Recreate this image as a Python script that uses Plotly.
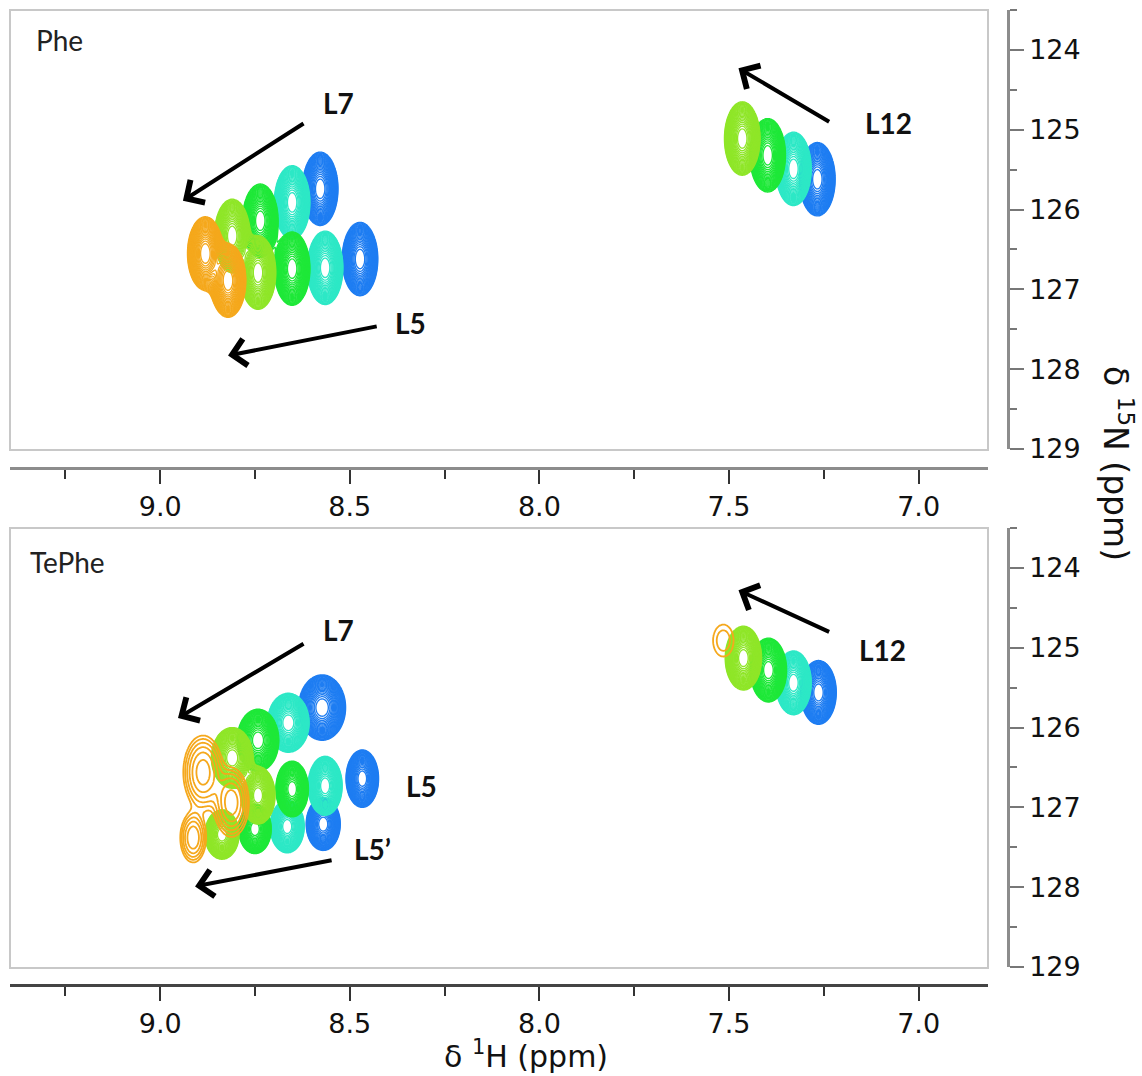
import numpy as np
import plotly.graph_objects as go

W, H = 1142, 1076

# ---- data --------------------------------------------------------------
colors = ["#1e7df2", "#2de8c6", "#1ee838", "#8fe628", "#f5a81c"]  # titration points 0..4

# Panel 1 (Phe): peak centres (1H ppm, 15N ppm), colour index, half-widths (ppm), intensity
phe_H   = [8.578, 8.652, 8.736, 8.810, 8.881,
           8.473, 8.565, 8.652, 8.742, 8.821,
           7.267, 7.330, 7.398, 7.465]
phe_N   = [125.74, 125.91, 126.14, 126.33, 126.55,
           126.62, 126.73, 126.74, 126.79, 126.89,
           125.62, 125.49, 125.32, 125.11]
phe_col = [0, 1, 2, 3, 4,
           0, 1, 2, 3, 4,
           0, 1, 2, 3]
phe_aH  = [0.047] * 14
phe_aN  = [0.46] * 14
phe_int = [1.0] * 14

# Panel 2 (TePhe)
te_H   = [8.573, 8.662, 8.742, 8.810, 8.887,
          8.467, 8.565, 8.652, 8.742, 8.812,
          8.570, 8.665, 8.750, 8.837, 8.913,
          7.264, 7.330, 7.396, 7.462, 7.515]
te_N   = [125.75, 125.94, 126.16, 126.38, 126.56,
          126.64, 126.73, 126.77, 126.85, 126.94,
          127.21, 127.24, 127.27, 127.34, 127.38,
          125.56, 125.44, 125.28, 125.13, 124.91]
te_col = [0, 1, 2, 3, 4,
          0, 1, 2, 3, 4,
          0, 1, 2, 3, 4,
          0, 1, 2, 3, 4]
te_aH  = [0.062, 0.055, 0.055, 0.055, 0.052,
          0.043, 0.045, 0.043, 0.045, 0.046,
          0.045, 0.045, 0.043, 0.045, 0.034,
          0.047, 0.047, 0.048, 0.048, 0.027]
te_aN  = [0.41, 0.37, 0.39, 0.38, 0.46,
          0.36, 0.37, 0.35, 0.36, 0.43,
          0.33, 0.33, 0.31, 0.31, 0.31,
          0.40, 0.40, 0.40, 0.40, 0.20]
te_int = [1.0, 1.0, 1.0, 1.0, 0.35,
          1.0, 1.0, 1.0, 1.0, 0.36,
          1.0, 1.0, 1.0, 1.0, 0.28,
          1.0, 1.0, 1.0, 1.0, 0.09]

x_ticks = [9.0, 8.5, 8.0, 7.5, 7.0]
y_ticks = [124, 125, 126, 127, 128, 129]

# labels: (text, H, N)
phe_labels = [("L7", 8.531, 124.67), ("L5", 8.341, 127.42), ("L12", 7.079, 124.91)]
te_labels = [("L7", 8.531, 124.78), ("L5", 8.312, 126.73), ("L5\u2019", 8.441, 127.52),
             ("L12", 7.095, 125.03)]
# arrows: (tail H, tail N, head H, head N)
phe_arrows = [(8.618, 124.91, 8.940, 125.89), (8.425, 127.46, 8.821, 127.83),
              (7.232, 124.91, 7.475, 124.23)]
te_arrows = [(8.618, 124.94, 8.953, 125.88), (8.544, 127.66, 8.908, 127.99),
             (7.232, 124.81, 7.475, 124.28)]

# ---- layout geometry (pixels) -----------------------------------------
XL, XR = 10, 988
panels = [dict(top=10, bot=449, xline=468), dict(top=528, bot=967, xline=985)]
x_range = [9.396, 6.817]
y_range = [129.0, 123.5]
L0 = 0.05


def px(x):
    return x / W


def py(y):
    return 1 - y / H


fig = go.Figure()


def add_spectrum(Hs, Ns, cols, aH, aN, ints, xa, ya):
    Hs, Ns, aH, aN, ints = map(np.asarray, (Hs, Ns, aH, aN, ints))
    cols = np.asarray(cols)
    for ci, c in enumerate(colors):
        for cluster in (Hs > 8.0, Hs <= 8.0):
            sel = (cols == ci) & cluster
            if not sel.any():
                continue
            h, n, ah, an, it = Hs[sel], Ns[sel], aH[sel], aN[sel], ints[sel]
            sx = ah / np.sqrt(2 * np.log(it / L0))
            sy = an / np.sqrt(2 * np.log(it / L0))
            xg = np.arange((h - 4 * sx).min(), (h + 4 * sx).max(), 0.002)
            yg = np.arange((n - 4 * sy).min(), (n + 4 * sy).max(), 0.012)
            X, Y = np.meshgrid(xg, yg)
            Z = np.zeros_like(X)
            for k in range(len(h)):
                Z += it[k] * np.exp(-0.5 * (((X - h[k]) / sx[k]) ** 2 + ((Y - n[k]) / sy[k]) ** 2))
            LZ = np.log10(np.maximum(Z, 1e-4)).astype(np.float32)
            outline = it.max() < 0.5
            if outline:
                contours = dict(coloring="lines", start=np.log10(L0), end=np.log10(0.29),
                                size=0.15, showlabels=False)
                lw = 1.8
            else:
                contours = dict(coloring="lines", start=np.log10(L0), end=-0.07,
                                size=0.055, showlabels=False)
                lw = 1.35
            fig.add_trace(go.Contour(
                x=xg.astype(np.float32), y=yg.astype(np.float32), z=LZ,
                xaxis=xa, yaxis=ya, autocontour=False, contours=contours,
                line=dict(width=lw, smoothing=1),
                colorscale=[[0, c], [1, c]], showscale=False, hoverinfo="skip"))


add_spectrum(phe_H, phe_N, phe_col, phe_aH, phe_aN, phe_int, "x", "y")
add_spectrum(te_H, te_N, te_col, te_aH, te_aN, te_int, "x2", "y2")

axis_font = dict(family="DejaVu Sans", size=27, color="#111111")
for i, p in enumerate(panels):
    sfx = "" if i == 0 else str(i + 1)
    xdom = [px(XL), px(XR)]
    ydom = [py(p["bot"]), py(p["top"])]
    fig.update_layout(**{
        "xaxis" + sfx: dict(domain=xdom, range=x_range, anchor="free", position=py(p["xline"]),
                            tickvals=x_ticks, ticktext=[f"{v:.1f}" for v in x_ticks],
                            ticks="outside", ticklen=14, tickwidth=1.5, tickcolor="#333333",
                            showline=True, linewidth=3,
                            linecolor="#8c8c8c" if i == 0 else "#444444",
                            minor=dict(dtick=0.25, tick0=7.0, ticks="outside", ticklen=9,
                                       tickwidth=1.5, tickcolor="#333333"),
                            showgrid=False, zeroline=False, tickfont=axis_font,
                            automargin=False),
        "yaxis" + sfx: dict(domain=ydom, range=y_range, anchor="free", position=px(1008),
                            side="right", tickvals=y_ticks, ticks="outside", ticklen=14,
                            tickwidth=1.5, tickcolor="#777777",
                            showline=True, linewidth=2.5, linecolor="#8c8c8c",
                            minor=dict(dtick=0.5, tick0=123.5, ticks="outside", ticklen=7,
                                       tickwidth=1.5, tickcolor="#777777"),
                            showgrid=False, zeroline=False, tickfont=axis_font,
                            automargin=False),
    })
    fig.add_shape(type="rect", xref="paper", yref="paper",
                  x0=px(XL), x1=px(XR), y0=py(p["bot"] + 1), y1=py(p["top"]),
                  line=dict(color="#c8c8c8", width=2), fillcolor="rgba(0,0,0,0)")

label_font = dict(family="Lato", size=28, color="#111111")
for (labels, arrows, xa, ya) in ((phe_labels, phe_arrows, "x", "y"),
                                 (te_labels, te_arrows, "x2", "y2")):
    for th, tn, hh, hn in arrows:
        fig.add_annotation(x=hh, y=hn, xref=xa, yref=ya, ax=th, ay=tn, axref=xa, ayref=ya,
                           text="", showarrow=True, arrowhead=4, arrowsize=1.3,
                           arrowwidth=4, arrowcolor="#000000", standoff=0)
    for t, h, n in labels:
        fig.add_annotation(x=h, y=n, xref=xa, yref=ya, text=f"<b>{t}</b>", showarrow=False,
                           font=label_font)

name_font = dict(family="Lato", size=28, color="#222222")
fig.add_annotation(x=px(34), y=py(40), xref="paper", yref="paper", text="Phe",
                   showarrow=False, xanchor="left", yanchor="middle", font=name_font)
fig.add_annotation(x=px(28), y=py(562), xref="paper", yref="paper", text="TePhe",
                   showarrow=False, xanchor="left", yanchor="middle", font=name_font)

fig.add_annotation(x=px(526), y=0, xref="paper", yref="paper",
                   text="\u03b4 <sup>1</sup>H (ppm)", showarrow=False,
                   xanchor="center", yanchor="bottom",
                   font=dict(family="DejaVu Sans", size=30, color="#111111"))
fig.add_annotation(x=px(1118), y=py(463), xref="paper", yref="paper",
                   text="\u03b4 <sup>15</sup>N (ppm)", showarrow=False, textangle=90,
                   xanchor="center", yanchor="middle",
                   font=dict(family="DejaVu Sans", size=33, color="#111111"))

fig.update_layout(width=W, height=H,
                  margin=dict(l=0, r=0, t=0, b=0, pad=0, autoexpand=False),
                  paper_bgcolor="white", plot_bgcolor="white", showlegend=False)

css = ("var s=document.createElement('style');"
       "s.innerHTML='html,body{margin:0!important;padding:0!important;overflow:hidden!important;}';"
       "document.head.appendChild(s);")
fig.write_html("out.html", config={"displayModeBar": False}, post_script=css)
